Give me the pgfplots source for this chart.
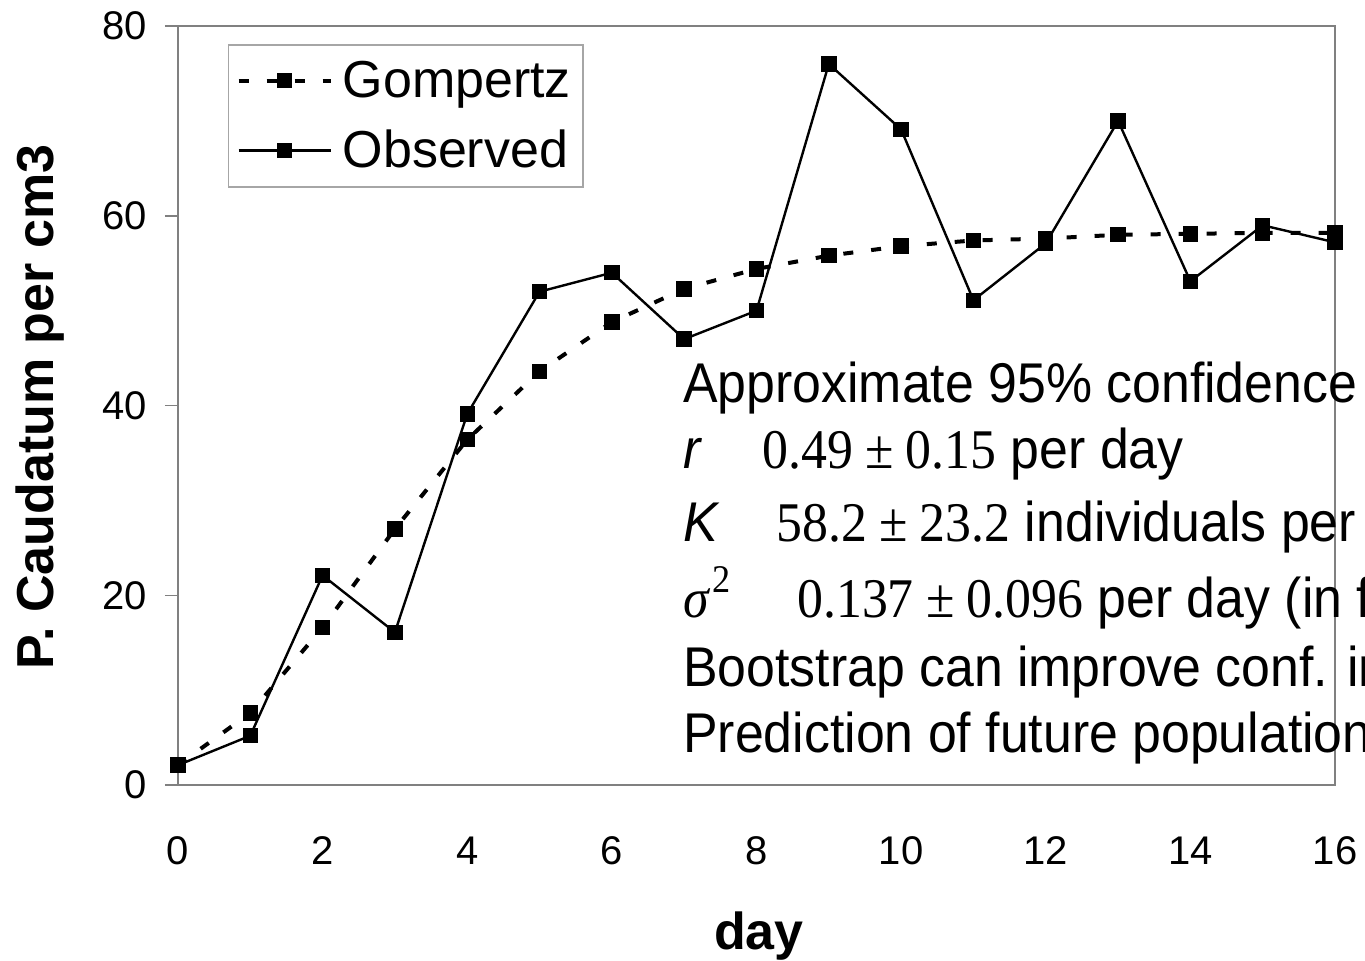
\documentclass[border=0pt]{standalone}
\usepackage{fontspec}
\setmainfont{Liberation Sans}
\newfontfamily\serif{Liberation Serif}
\usepackage{graphicx}
\usepackage{pgfplots}
\pgfplotsset{compat=1.18}
% text block on the right, slightly condensed like the original slide
\newcommand\ol[1]{\scalebox{0.925}[1]{\fontsize{28}{28}\selectfont #1}}
\newcommand\pmsp{\kern6.6pt±\kern6.6pt}
\begin{document}
\begin{tikzpicture}
\begin{axis}[
  scale only axis, width=578.5pt, height=379.5pt,
  xmin=0, xmax=16, ymin=0, ymax=80,
  xtick={0,2,...,16}, ytick={0,20,...,80},
  axis line style={draw=black!50, line width=0.75pt},
  tick align=outside, major tick length=6.5pt,
  xtick style={draw=none},
  ytick style={draw=black!50, line width=0.75pt},
  ytick pos=left, xtick pos=bottom,
  /pgf/number format/assume math mode=true,
  tick label style={font=\fontsize{20}{24}\selectfont},
  xticklabel style={text height=14.5pt, text depth=0pt, yshift=-15pt},
  yticklabel style={xshift=-5.5pt},
  xlabel={day}, ylabel={P. Caudatum per cm3},
  every axis x label/.style={at={(rel axis cs:0.502,-0.199)}, anchor=center,
    font=\fontsize{26}{30}\selectfont\bfseries},
  every axis y label/.style={at={(rel axis cs:-0.1193,0.498)}, anchor=center,
    rotate=90, font=\fontsize{26}{30}\selectfont\bfseries},
  clip=false,
  legend style={at={(rel axis cs:0.0432,0.976)}, anchor=north west,
    draw=black!35, line width=0.75pt, font=\fontsize{26}{30}\selectfont,
    inner xsep=4pt, inner ysep=6pt, row sep=11pt, column sep=3pt,
    cells={anchor=west}},
  legend image code/.code={\draw[mark repeat=2,mark phase=2,#1]
    plot coordinates {(0pt,0pt) (23pt,0pt) (46pt,0pt)};},
]
\addplot[black, line width=2pt, dash pattern=on 5pt off 9pt,
  mark=square*, mark size=3.6pt, mark options={solid, line width=0pt}]
  coordinates {(0,2.1) (1,7.6) (2,16.6) (3,27.0) (4,36.4) (5,43.6) (6,48.8)
  (7,52.3) (8,54.4) (9,55.8) (10,56.8) (11,57.4) (12,57.6) (13,58.0)
  (14,58.1) (15,58.2) (16,58.2)};
\addlegendentry{Gompertz}
\addplot[black, line width=1.2pt,
  mark=square*, mark size=3.6pt, mark options={line width=0pt}]
  coordinates {(0,2.1) (1,5.2) (2,22.1) (3,16.1) (4,39.1) (5,52.0) (6,54.0)
  (7,47.0) (8,50.0) (9,76.0) (10,69.1) (11,51.1) (12,57.1) (13,70.0)
  (14,53.1) (15,59.0) (16,57.2)};
\addlegendentry{Observed}

\node[anchor=base west, inner sep=0] at (axis cs:6.983,40.37)
  {\ol{Approximate 95\% confidence intervals}};
\node[anchor=base west, inner sep=0] at (axis cs:6.983,33.41)
  {\ol{\makebox[42.7pt][l]{\itshape r}{\serif 0.49\pmsp0.15} per day}};
\node[anchor=base west, inner sep=0] at (axis cs:6.983,25.72)
  {\ol{\makebox[50.3pt][l]{\itshape K}{\serif 58.2\pmsp23.2} individuals per cm3}};
\node[anchor=base west, inner sep=0] at (axis cs:6.983,17.71)
  {\ol{\makebox[61.6pt][l]{{\serif\itshape σ}\kern2pt\raisebox{3pt}{\serif\textsuperscript{2}}}{\serif 0.137\pmsp0.096} per day (in fitting)}};
\node[anchor=base west, inner sep=0] at (axis cs:6.983,10.43)
  {\ol{Bootstrap can improve conf. intervals}};
\node[anchor=base west, inner sep=0] at (axis cs:6.983,3.48)
  {\ol{Prediction of future population}};

\coordinate (BL) at (rel axis cs:-0.1538,-0.2306);
\coordinate (TR) at (rel axis cs:1.0259,1.0343);
\end{axis}
\pgfresetboundingbox
\useasboundingbox (BL) rectangle (TR);
\end{tikzpicture}
\end{document}
